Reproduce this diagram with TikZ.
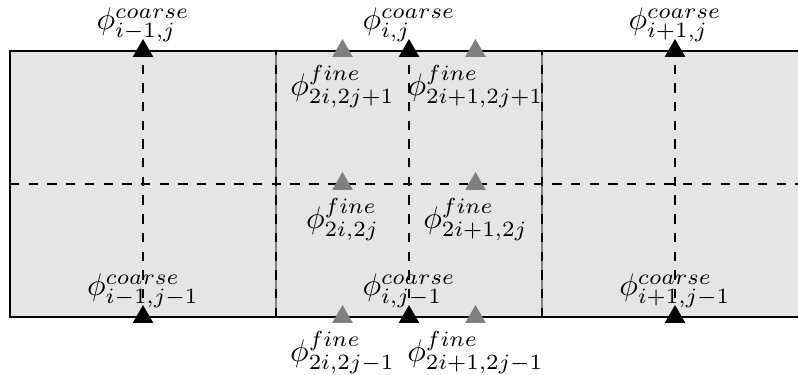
\documentclass[tikz,border=0pt]{standalone}
\usetikzlibrary{shapes.geometric}
\tikzset{tri/.style={regular polygon, regular polygon sides=3,
  minimum size=2.7mm, inner sep=0pt},
  coarse/.style={tri, fill=black},
  fine/.style={tri, fill=gray},
  coarselbl/.style={anchor=south, yshift=-0.6pt},
  finelbl/.style={anchor=north, yshift=-1pt}}

\begin{document}
\begin{tikzpicture}
  \useasboundingbox (-0.113,-0.643) rectangle (8.887,3.575);
  % three coarse cells, refined grid dashed
  \fill[gray!20] (0,0) rectangle (9,3);
  \draw[black!50] (3,0) -- (3,3) (6,0) -- (6,3);
  \draw (0,0) rectangle (9,3);
  \draw[dashed, step=1.5] (0,0) grid (9,3);
  % coarse points (top and bottom rows)
  \node[coarse] (cimj)   at (1.5,3) {};
  \node[coarse] (cij)    at (4.5,3) {};
  \node[coarse] (cipj)   at (7.5,3) {};
  \node[coarse] (cimjm)  at (1.5,0) {};
  \node[coarse] (cijm)   at (4.5,0) {};
  \node[coarse] (cipjm)  at (7.5,0) {};
  % fine points in the middle cell
  \node[fine] (ftl) at (3.75,3) {};
  \node[fine] (ftr) at (5.25,3) {};
  \node[fine] (fml) at (3.75,1.5) {};
  \node[fine] (fmr) at (5.25,1.5) {};
  \node[fine] (fbl) at (3.75,0) {};
  \node[fine] (fbr) at (5.25,0) {};
  % labels
  \node[coarselbl] (lcimj)  at (cimj.center)  {$\phi^{coarse}_{i-1,j}$};
  \node[coarselbl] (lcij)   at (cij.center)   {$\phi^{coarse}_{i,j}$};
  \node[coarselbl] (lcipj)  at (cipj.center)  {$\phi^{coarse}_{i+1,j}$};
  \node[coarselbl] (lcimjm) at (cimjm.center) {$\phi^{coarse}_{i-1,j-1}$};
  \node[coarselbl] (lcijm)  at (cijm.center)  {$\phi^{coarse}_{i,j-1}$};
  \node[coarselbl] (lcipjm) at (cipjm.center) {$\phi^{coarse}_{i+1,j-1}$};
  \node[finelbl] (lftl) at (ftl.center) {$\phi^{fine}_{2i,2j+1}$};
  \node[finelbl] (lftr) at (ftr.center) {$\phi^{fine}_{2i+1,2j+1}$};
  \node[finelbl] (lfml) at (fml.center) {$\phi^{fine}_{2i,2j}$};
  \node[finelbl] (lfmr) at (fmr.center) {$\phi^{fine}_{2i+1,2j}$};
  \node[finelbl] (lfbl) at (fbl.center) {$\phi^{fine}_{2i,2j-1}$};
  \node[finelbl] (lfbr) at (fbr.center) {$\phi^{fine}_{2i+1,2j-1}$};
\end{tikzpicture}
\end{document}
